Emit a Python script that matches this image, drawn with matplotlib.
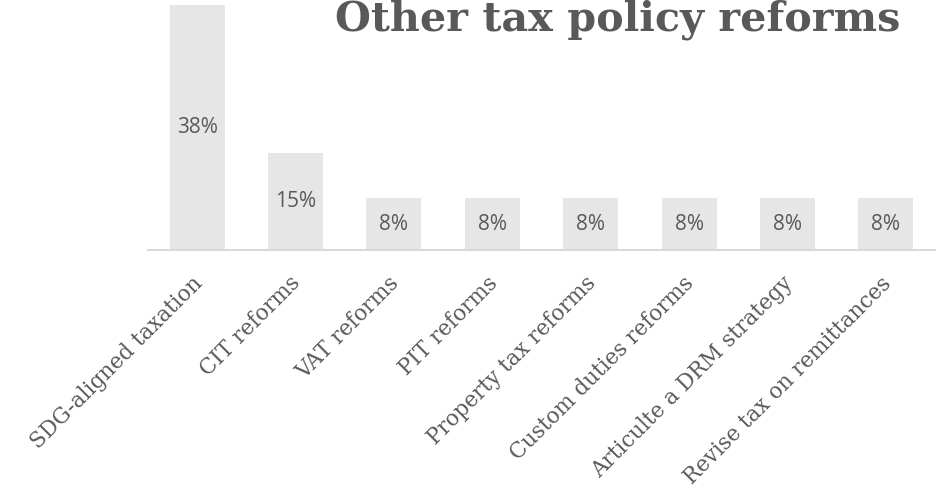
import matplotlib
matplotlib.use("Agg")
import matplotlib.pyplot as plt
from matplotlib.transforms import ScaledTranslation

# Share of responses by type of tax policy reform
categories = [
    "SDG-aligned taxation",
    "CIT reforms",
    "VAT reforms",
    "PIT reforms",
    "Property tax reforms",
    "Custom duties reforms",
    "Articulte a DRM strategy",
    "Revise tax on remittances",
]
shares = [38, 15, 8, 8, 8, 8, 8, 8]
title = "Other tax policy reforms"

TEXT = "#595959"
BAR = "#e7e6e6"
AXIS = "#d9d9d9"

W, H, DPI = 948, 492, 100
fig = plt.figure(figsize=(W / DPI, H / DPI), dpi=DPI)
ax = fig.add_axes([148 / W, 1 - 250 / H, (935 - 148) / W, 250 / H])

x = list(range(len(categories)))
ax.bar(x, shares, width=0.56, color=BAR, zorder=2)
ax.set_xlim(-0.5, len(categories) - 0.5)
ax.set_ylim(0, max(shares) * 250 / 245)

# value labels centred in each bar
for xi, v in zip(x, shares):
    ax.text(xi, v / 2, f"{v}%", ha="center", va="center",
            fontsize=15, color=TEXT, family="Open Sans", zorder=3)

for side in ("left", "right", "top"):
    ax.spines[side].set_visible(False)
ax.spines["bottom"].set_color(AXIS)
ax.spines["bottom"].set_linewidth(1.5)
ax.set_yticks([])
ax.set_xticks(x)
ax.set_xticklabels(categories, rotation=45, ha="right", va="top",
                   rotation_mode="anchor", fontsize=15.5, color=TEXT,
                   family="DejaVu Serif")
ax.tick_params(axis="x", length=0, pad=16)
shift = ScaledTranslation(-6 / DPI, 0, fig.dpi_scale_trans)
for lbl in ax.get_xticklabels():
    lbl.set_transform(lbl.get_transform() + shift)

fig.text(335 / W, 1 - 30 / H, title, ha="left", va="baseline",
         fontsize=29.7, fontweight="bold", color=TEXT, family="DejaVu Serif")

fig.savefig("out.png", dpi=DPI)
